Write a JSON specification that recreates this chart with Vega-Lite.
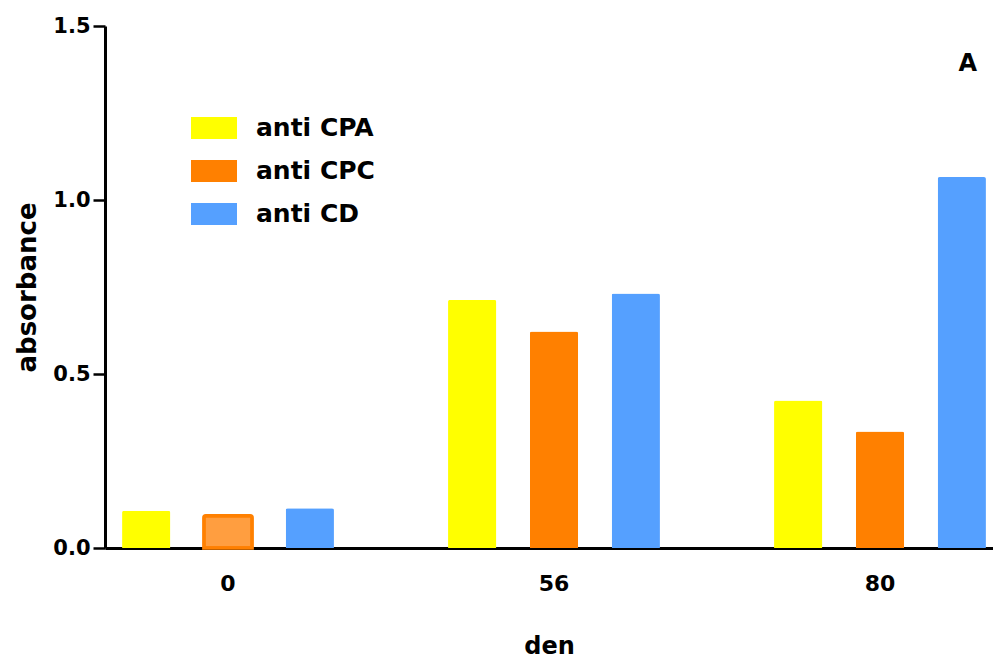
{
  "$schema": "https://vega.github.io/schema/vega-lite/v6.json",
  "width": 888,
  "height": 522,
  "autosize": {"type": "none"},
  "padding": {"left": 105, "top": 26, "right": 0, "bottom": 115},
  "background": "white",
  "config": {"view": {"stroke": null}, "font": "DejaVu Sans"},
  "title": {"text": "A", "anchor": "end", "fontSize": 24, "fontWeight": "bold", "color": "black", "offset": -61, "dx": -16},
  "data": {"values": [
    {"den": "0", "series": "anti CPA", "value": 0.107},
    {"den": "0", "series": "anti CPC", "value": 0.093},
    {"den": "0", "series": "anti CD", "value": 0.114},
    {"den": "56", "series": "anti CPA", "value": 0.713},
    {"den": "56", "series": "anti CPC", "value": 0.622},
    {"den": "56", "series": "anti CD", "value": 0.731},
    {"den": "80", "series": "anti CPA", "value": 0.424},
    {"den": "80", "series": "anti CPC", "value": 0.335},
    {"den": "80", "series": "anti CD", "value": 1.066}
  ]},
  "mark": {"type": "bar", "cornerRadiusTopLeft": 2, "cornerRadiusTopRight": 2, "strokeWidth": 3.5},
  "encoding": {
    "x": {
      "field": "den", "type": "nominal", "sort": ["0", "56", "80"],
      "scale": {"domain": ["0", "56", "80"], "paddingInner": 0.35, "paddingOuter": 0.037, "align": 0.707},
      "axis": {
        "title": "den", "titleFontSize": 24, "titleFontWeight": "bold", "titleColor": "black", "titlePadding": 40,
        "labelAngle": 0, "ticks": false, "labelPadding": 25, "labelFontSize": 22, "labelFontWeight": "bold", "labelColor": "black",
        "domainColor": "black", "domainWidth": 3
      }
    },
    "xOffset": {
      "field": "series", "type": "nominal",
      "scale": {"domain": ["anti CPA", "anti CPC", "anti CD"], "paddingInner": 0.41, "paddingOuter": 0}
    },
    "y": {
      "field": "value", "type": "quantitative",
      "scale": {"domain": [0, 1.5], "nice": false},
      "axis": {
        "title": "absorbance", "titleFontSize": 26, "titleFontWeight": "bold", "titleColor": "black", "titlePadding": 12,
        "labelFontSize": 21, "labelFontWeight": "bold", "labelColor": "black", "labelPadding": 3,
        "tickSize": 12, "tickWidth": 2.5, "tickColor": "black", "domainColor": "black", "domainWidth": 3,
        "grid": false, "values": [0, 0.5, 1, 1.5], "format": ".1f"
      }
    },
    "fill": {
      "field": "series", "type": "nominal",
      "condition": {"test": "datum.den === '0' && datum.series === 'anti CPC'", "value": "#FF9E40"},
      "scale": {"domain": ["anti CPA", "anti CPC", "anti CD"], "range": ["#FFFF00", "#FF8000", "#55A0FF"]},
      "legend": {
        "title": null, "orient": "none", "legendX": 85, "legendY": 78, "padding": 0,
        "symbolType": "M-1,-0.478H1V0.478H-1Z", "symbolSize": 2116, "symbolOpacity": 1,
        "labelFontSize": 25, "labelFontWeight": "bold", "labelColor": "black", "labelOffset": 18,
        "rowPadding": 5,
        "encode": {"symbols": {"update": {
          "fill": {"signal": "datum.value === 'anti CPA' ? '#FFFF00' : datum.value === 'anti CPC' ? '#FF9E40' : '#55A0FF'"},
          "stroke": {"signal": "datum.value === 'anti CPC' ? '#FF8000' : 'transparent'"},
          "strokeWidth": {"value": 4}
        }}}
      }
    },
    "stroke": {
      "condition": {"test": "datum.den === '0' && datum.series === 'anti CPC'", "value": "#FF8000"},
      "value": "transparent"
    }
  }
}
